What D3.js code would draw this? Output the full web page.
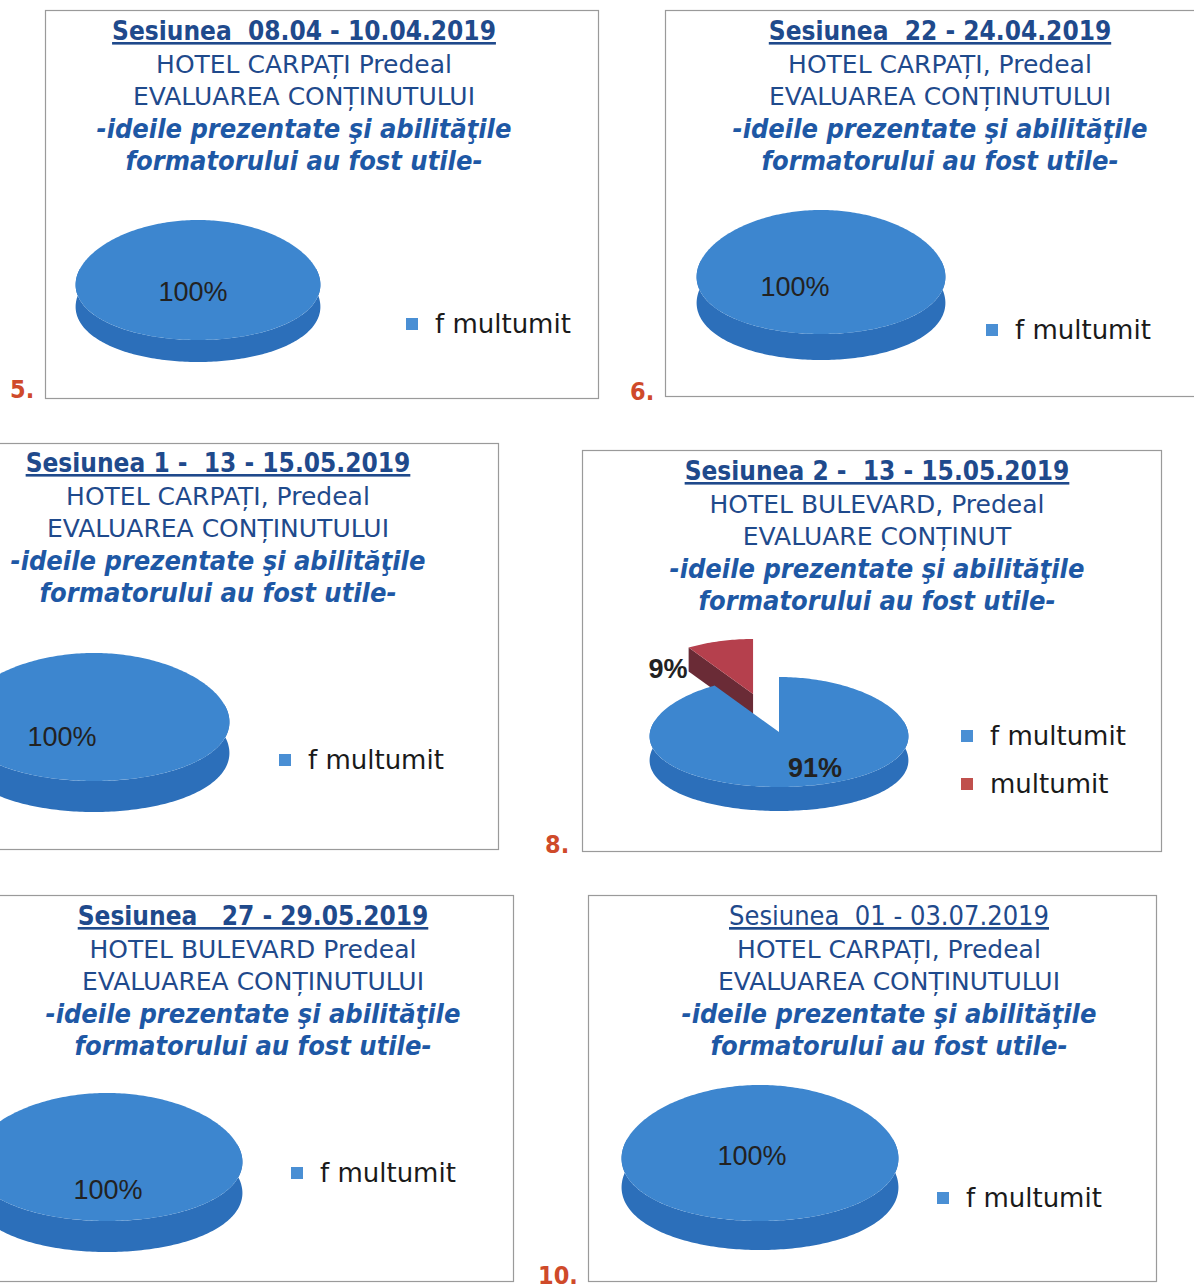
<!doctype html>
<html>
<head>
<meta charset="utf-8">
<style>
html,body{margin:0;background:#fff;overflow:hidden;}
text{font-family:"DejaVu Sans","DejaVu Sans Condensed",sans-serif;white-space:pre;}
</style>
<script src="https://cdn.jsdelivr.net/npm/d3@7"></script>
</head>
<body>
<script>
// chart data, one entry per panel
var sessions = ["Sesiunea  08.04 - 10.04.2019", "Sesiunea  22 - 24.04.2019", "Sesiunea 1 -  13 - 15.05.2019",
                "Sesiunea 2 -  13 - 15.05.2019", "Sesiunea   27 - 29.05.2019", "Sesiunea  01 - 03.07.2019"];
var hotels = ["HOTEL CARPAȚI Predeal", "HOTEL CARPAȚI, Predeal", "HOTEL CARPAȚI, Predeal",
              "HOTEL BULEVARD, Predeal", "HOTEL BULEVARD Predeal", "HOTEL CARPAȚI, Predeal"];
var headings = ["EVALUAREA CONȚINUTULUI", "EVALUAREA CONȚINUTULUI", "EVALUAREA CONȚINUTULUI",
                "EVALUARE CONȚINUT", "EVALUAREA CONȚINUTULUI", "EVALUAREA CONȚINUTULUI"];
var question = ["-ideile prezentate şi abilităţile", "formatorului au fost utile-"];
var panelNumbers = ["5.", "6.", "", "8.", "", "10."];
var categories = ["f multumit", "multumit"];
var fMultumit = [100, 100, 100, 91, 100, 100];
var multumit = [0, 0, 0, 9, 0, 0];

// layout (positions only)
var layout = [
  {box:[45,10,553,388],  tx:304, ty:31,  pie:[198,280,122,60,22],  lab:[[-5,12]],  leg:[412,324], num:[10,398],  bold:true},
  {box:[665,10,540,386], tx:940, ty:31,  pie:[821,272,124,62,26],  lab:[[-26,15]], leg:[992,330], num:[630,400], bold:true},
  {box:[-55,443,553,406],tx:218, ty:463, pie:[94,717,135,64,31],   lab:[[-32,20]], leg:[285,760], num:null,      bold:true},
  {box:[582,450,579,401],tx:877, ty:471, pie:[779,732,129,55,24],  lab:[[36,36],[-111,-63]], leg:[967,736], num:[545,853], bold:true, explode:[0,0.72]},
  {box:[-40,895,553,386],tx:253, ty:916, pie:[107,1157,135,64,31], lab:[[1,33]],   leg:[297,1173], num:null,     bold:true},
  {box:[588,895,568,386],tx:889, ty:916, pie:[760,1153,138,68,29], lab:[[-8,3]],   leg:[943,1198], num:[538,1284], bold:false}
];
var K = 0.08; // slight perspective: far rim a bit narrower

var topColor = d3.scaleOrdinal().domain(categories).range(["#3d86cf", "#b5404d"]);
var wallColor = d3.scaleOrdinal().domain(categories).range(["#2c6fba", "#8a2f3b"]);
var cutColor = d3.scaleOrdinal().domain(categories).range(["#2a64a6", "#6a2b36"]);
var legColor = d3.scaleOrdinal().domain(categories).range(["#4a8fd4", "#c0504d"]);

var svg = d3.select("body").append("svg")
    .attr("width", 1194).attr("height", 1284);
svg.append("rect").attr("width", 1194).attr("height", 1284).attr("fill", "#fff");

var pie = d3.pie().sort(null).value(function(d){ return d.v; });

layout.forEach(function(L, i){
  var g = svg.append("g");
  g.append("rect")
    .attr("x", L.box[0] + 0.5).attr("y", L.box[1] + 0.5)
    .attr("width", L.box[2]).attr("height", L.box[3])
    .attr("fill", "none").attr("stroke", "#9a9a9a").attr("stroke-width", 1.2);

  var lines = [sessions[i], hotels[i], headings[i], question[0], question[1]];
  lines.forEach(function(t, k){
    var txt = g.append("text")
      .attr("x", L.tx).attr("y", L.ty + k * 32.5 + 9)
      .attr("text-anchor", "middle")
      .attr("fill", k < 3 ? "#1f4a8c" : "#1e58a5")
      .text(t);
    if (k == 0) {
      txt.attr("font-size", 26).style("font-family", "'DejaVu Sans Condensed'")
        .attr("font-weight", L.bold ? "bold" : "normal").style("text-decoration", "underline");
      if (!L.bold) txt.attr("font-size", 27);
    } else if (k < 3) {
      txt.attr("font-size", 25);
    } else {
      txt.attr("font-size", 27).style("font-family", "'DejaVu Sans Condensed'")
        .attr("font-weight", "bold").attr("font-style", "italic");
    }
  });

  if (L.num) {
    g.append("text").attr("x", L.num[0]).attr("y", L.num[1])
      .attr("font-size", 25).attr("font-weight", "bold").attr("fill", "#cf4a2a")
      .style("font-family", "'DejaVu Sans Condensed'")
      .text(panelNumbers[i]);
  }

  // 3d pie
  var p = {cx:L.pie[0], cy:L.pie[1], rx:L.pie[2], ry:L.pie[3], h:L.pie[4]};
  var vals = [{c:categories[0], v:fMultumit[i]}, {c:categories[1], v:multumit[i]}].filter(function(d){ return d.v > 0; });
  var total = d3.sum(vals, function(d){ return d.v; });
  var arcs = pie(vals);
  arcs.forEach(function(a, j){
    var e = L.explode ? L.explode[j] : 0;
    var mid = (a.startAngle + a.endAngle) / 2;
    a.ox = e * p.rx * Math.sin(mid);
    a.oy = -e * p.ry * Math.cos(mid);
    a.lab = L.lab[j];
  });
  function pt(a, s, down) {
    var c = Math.cos(s);
    return [p.cx + a.ox + p.rx * Math.sin(s) * (1 - K * c), p.cy + a.oy - p.ry * c + (down ? p.h : 0)];
  }
  function rim(a, s0, s1, down) {
    var n = Math.max(2, Math.ceil(Math.abs(s1 - s0) / 0.02));
    return d3.range(n + 1).map(function(k){ return pt(a, s0 + (s1 - s0) * k / n, down); });
  }
  function poly(pts) { return "M" + pts.join("L") + "Z"; }

  var order = arcs.slice().sort(function(a, b){ return a.oy - b.oy; });
  order.forEach(function(a){
    var c = a.data.c, full = a.endAngle - a.startAngle > 2 * Math.PI - 1e-6;
    var ctr = [p.cx + a.ox, p.cy + a.oy], ctrDown = [ctr[0], ctr[1] + p.h];
    // outer wall, front half (a little wider, the top face covers the excess)
    var s0 = Math.max(a.startAngle, Math.PI / 2 - 0.2), s1 = Math.min(a.endAngle, 3 * Math.PI / 2 + 0.2);
    if (s0 < s1) {
      g.append("path")
        .attr("d", poly(rim(a, s0, s1).concat(rim(a, s1, s0, true))))
        .attr("fill", wallColor(c));
    }
    if (!full) {
      // cut faces that face the viewer
      [[a.startAngle, -1], [a.endAngle, 1]].forEach(function(f){
        if (f[1] * Math.sin(f[0]) > 1e-6) {
          g.append("path")
            .attr("d", poly([ctr, pt(a, f[0]), pt(a, f[0], true), ctrDown]))
            .attr("fill", cutColor(c));
        }
      });
      g.append("path")
        .attr("d", poly([ctr].concat(rim(a, a.startAngle, a.endAngle))))
        .attr("fill", topColor(c));
    } else {
      g.append("path")
        .attr("d", poly(rim(a, 0, 2 * Math.PI)))
        .attr("fill", topColor(c));
    }
  });
  arcs.forEach(function(a){
    var pct = Math.round(a.data.v / total * 100) + "%";
    g.append("text")
      .attr("x", p.cx + a.lab[0]).attr("y", p.cy + a.lab[1])
      .attr("text-anchor", "middle").attr("dominant-baseline", "central")
      .style("font-family", "'Liberation Sans', Arial, sans-serif")
      .attr("font-size", 27).attr("fill", "#222")
      .attr("font-weight", arcs.length > 1 ? "bold" : "normal")
      .text(pct);
  });

  // legend
  vals.forEach(function(d, j){
    var y = L.leg[1] + j * 48;
    g.append("rect").attr("x", L.leg[0] - 6).attr("y", y - 6).attr("width", 12).attr("height", 12)
      .attr("fill", legColor(d.c));
    g.append("text").attr("x", L.leg[0] + 23).attr("y", y)
      .attr("dominant-baseline", "central")
      .attr("font-size", 26).attr("fill", "#1a1a1a")
      .text(d.c);
  });
});
</script>
</body>
</html>
